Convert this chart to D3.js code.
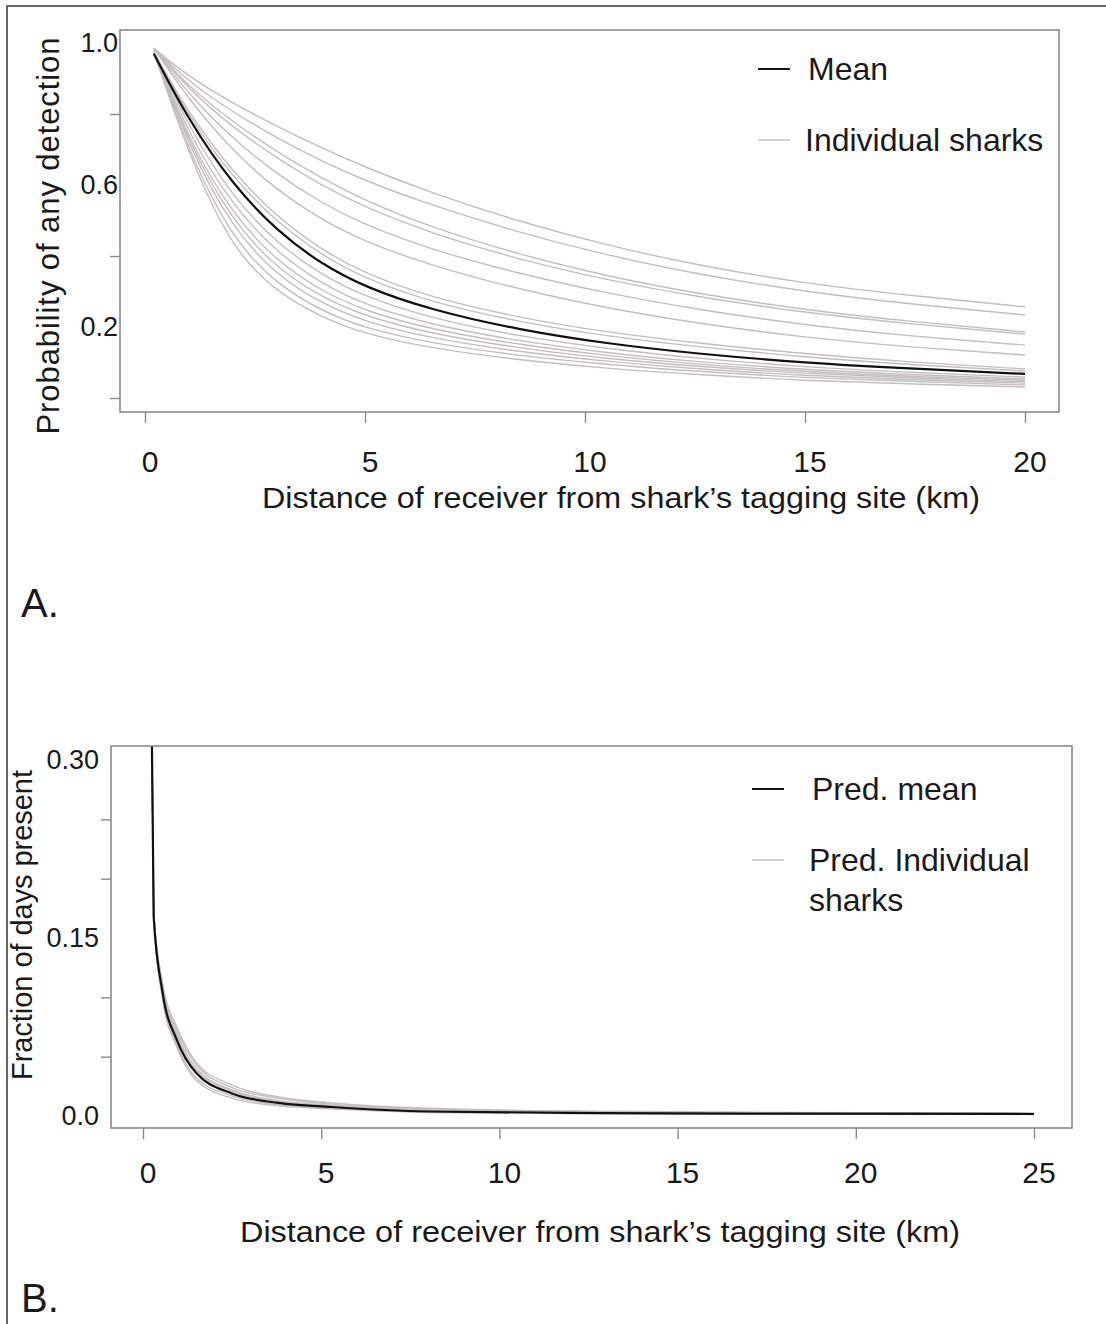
<!DOCTYPE html>
<html>
<head>
<meta charset="utf-8">
<script src="https://cdn.jsdelivr.net/npm/d3@7"></script>
<style>
  body { margin: 0; background: #fff; }
  text { font-family: "Liberation Sans", Arial, sans-serif; fill: #1a1a1a; }
</style>
</head>
<body>
<div id="chart"></div>
<script>
// panel A: probability of any detection vs distance
const topX = [0.2, 1, 2, 3, 4, 5, 6.5, 8.5, 10.5, 12.5, 15, 17.5, 20];
const topMean = [0.97, 0.78, 0.60, 0.47, 0.378, 0.312, 0.248, 0.192, 0.153, 0.125, 0.099, 0.082, 0.068];
const topSharks = [
    [0.985, 0.904, 0.830, 0.765, 0.705, 0.650, 0.578, 0.497, 0.430, 0.375, 0.322, 0.287, 0.257],
    [0.985, 0.890, 0.805, 0.732, 0.668, 0.612, 0.543, 0.466, 0.402, 0.350, 0.299, 0.263, 0.234],
    [0.985, 0.876, 0.777, 0.693, 0.620, 0.556, 0.481, 0.404, 0.343, 0.295, 0.248, 0.214, 0.186],
    [0.985, 0.868, 0.762, 0.675, 0.600, 0.537, 0.464, 0.390, 0.332, 0.286, 0.240, 0.207, 0.180],
    [0.985, 0.854, 0.730, 0.630, 0.550, 0.487, 0.418, 0.350, 0.295, 0.250, 0.205, 0.173, 0.149],
    [0.985, 0.839, 0.695, 0.585, 0.503, 0.440, 0.373, 0.306, 0.253, 0.211, 0.170, 0.142, 0.121],
    [0.975, 0.800, 0.635, 0.510, 0.418, 0.350, 0.283, 0.226, 0.185, 0.155, 0.124, 0.100, 0.082],
    [0.975, 0.790, 0.620, 0.495, 0.403, 0.336, 0.270, 0.214, 0.174, 0.145, 0.115, 0.093, 0.076],
    [0.975, 0.760, 0.565, 0.435, 0.348, 0.285, 0.224, 0.174, 0.139, 0.112, 0.087, 0.071, 0.059],
    [0.975, 0.740, 0.540, 0.410, 0.323, 0.262, 0.206, 0.160, 0.127, 0.102, 0.080, 0.065, 0.054],
    [0.975, 0.725, 0.515, 0.385, 0.302, 0.245, 0.193, 0.150, 0.119, 0.095, 0.074, 0.060, 0.050],
    [0.975, 0.715, 0.495, 0.365, 0.285, 0.230, 0.181, 0.140, 0.111, 0.089, 0.069, 0.056, 0.046],
    [0.975, 0.705, 0.475, 0.345, 0.267, 0.214, 0.168, 0.130, 0.103, 0.082, 0.063, 0.051, 0.042],
    [0.975, 0.690, 0.445, 0.320, 0.246, 0.196, 0.154, 0.119, 0.094, 0.075, 0.057, 0.046, 0.037],
    [0.975, 0.680, 0.415, 0.298, 0.228, 0.180, 0.140, 0.107, 0.083, 0.066, 0.049, 0.039, 0.031]
];
const topXTicks = [0, 5, 10, 15, 20];
const topYTicks = [0, 0.4, 0.8];
const topYLabels = ["1.0", "0.6", "0.2"];
const topYLabelVals = [1.0, 0.6, 0.2];

// panel B: fraction of days present vs distance
const botX = [0.2, 0.3, 0.55, 0.95, 1.5, 2.5, 3.8, 5.3, 8, 12.8, 18, 25];
const botMean = [0.46, 0.168, 0.104, 0.064, 0.036, 0.019, 0.011, 0.0076, 0.0038, 0.0025, 0.002, 0.0017];
const botSharks = [
    [0.46, 0.172, 0.112, 0.075, 0.045, 0.026, 0.016, 0.011, 0.0065, 0.0040, 0.0030, 0.0024],
    [0.46, 0.171, 0.110, 0.072, 0.043, 0.024, 0.015, 0.010, 0.0060, 0.0037, 0.0028, 0.0022],
    [0.46, 0.170, 0.108, 0.069, 0.040, 0.022, 0.013, 0.009, 0.0052, 0.0033, 0.0025, 0.0020],
    [0.46, 0.169, 0.106, 0.067, 0.038, 0.021, 0.012, 0.0085, 0.0048, 0.0031, 0.0023, 0.0019],
    [0.46, 0.167, 0.100, 0.060, 0.032, 0.017, 0.0095, 0.0068, 0.0034, 0.0022, 0.0018, 0.0015],
    [0.46, 0.166, 0.098, 0.058, 0.030, 0.015, 0.0085, 0.006, 0.0030, 0.0020, 0.0016, 0.0014]
];
const botXTicks = [0, 5, 10, 15, 20, 25];
const botYTicks = [0.05, 0.10, 0.20, 0.25];
const botYLabels = ["0.30", "0.15", "0.0"];
const botYLabelVals = [0.30, 0.15, 0.0];

const xTitle = "Distance of receiver from shark’s tagging site (km)";

let W = 1106, H = 1324;
let grey = "#c2bebe", axisCol = "#8a8a8a";

let svg = d3.select("#chart").append("svg")
    .attr("width", W)
    .attr("height", H);

svg.append("rect").attr("width", W).attr("height", H).attr("fill", "#fff");

// outer frame (left + top edges visible)
svg.append("path")
    .attr("d", `M7,${H} V6 H${W}`)
    .attr("fill", "none")
    .attr("stroke", "#333")
    .attr("stroke-width", 1.5);

function panel(cfg) {
    let g = svg.append("g");
    let x = d3.scaleLinear().domain(cfg.xDomain).range(cfg.xRange);
    let y = d3.scaleLinear().domain(cfg.yDomain).range(cfg.yRange);
    let b = cfg.box;

    let clipId = "clip" + cfg.id;
    g.append("clipPath").attr("id", clipId)
        .append("rect")
        .attr("x", b.x0).attr("y", b.y0)
        .attr("width", b.x1 - b.x0).attr("height", b.y1 - b.y0);

    let line = d3.line()
        .x((d, i) => x(cfg.xs[i]))
        .y(d => y(d))
        .curve(cfg.curve);

    let lines = g.append("g").attr("clip-path", `url(#${clipId})`);
    lines.selectAll(".shark")
        .data(cfg.sharks)
        .enter()
        .append("path")
        .attr("class", "shark")
        .attr("d", line)
        .attr("fill", "none")
        .attr("stroke", grey)
        .attr("stroke-width", 1.4);

    lines.append("path")
        .attr("d", line(cfg.mean))
        .attr("fill", "none")
        .attr("stroke", "#111")
        .attr("stroke-width", 2.2);

    g.append("rect")
        .attr("x", b.x0).attr("y", b.y0)
        .attr("width", b.x1 - b.x0).attr("height", b.y1 - b.y0)
        .attr("fill", "none")
        .attr("stroke", axisCol)
        .attr("stroke-width", 1.6);

    // x axis ticks below box
    g.append("g")
        .attr("transform", `translate(0,${b.y1})`)
        .call(d3.axisBottom(x).tickValues(cfg.xTicks).tickSize(11).tickFormat(""))
        .call(a => a.select(".domain").remove())
        .selectAll("line")
        .attr("stroke", axisCol)
        .attr("stroke-width", 1.4);

    g.selectAll(".xlab")
        .data(cfg.xTicks)
        .enter()
        .append("text")
        .attr("x", d => x(d) + 5)
        .attr("y", cfg.xLabY)
        .attr("text-anchor", "middle")
        .attr("dominant-baseline", "central")
        .style("font-size", "30px")
        .text(d => d);

    // y axis: unlabelled ticks + labels
    g.append("g")
        .attr("transform", `translate(${b.x0},0)`)
        .call(d3.axisLeft(y).tickValues(cfg.yTicks).tickSize(10).tickFormat(""))
        .call(a => a.select(".domain").remove())
        .selectAll("line")
        .attr("stroke", axisCol)
        .attr("stroke-width", 1.4);

    g.selectAll(".ylab")
        .data(cfg.yLabelVals)
        .enter()
        .append("text")
        .attr("x", b.x0 - cfg.yLabGap)
        .attr("y", d => y(d))
        .attr("text-anchor", "end")
        .attr("dominant-baseline", "central")
        .style("font-size", "27px")
        .text((d, i) => cfg.yLabels[i]);

    g.append("text")
        .attr("x", cfg.xTitle.cx)
        .attr("y", cfg.xTitle.cy)
        .attr("text-anchor", "middle")
        .attr("dominant-baseline", "central")
        .attr("textLength", cfg.xTitle.len)
        .attr("lengthAdjust", "spacingAndGlyphs")
        .style("font-size", "29px")
        .text(xTitle);

    g.append("text")
        .attr("transform", `translate(${cfg.yTitle.cx},${cfg.yTitle.cy}) rotate(-90)`)
        .attr("text-anchor", "middle")
        .attr("dominant-baseline", "central")
        .attr("textLength", cfg.yTitle.len)
        .attr("lengthAdjust", "spacing")
        .style("font-size", cfg.yTitle.size + "px")
        .text(cfg.yTitle.text);

    // legend
    cfg.legend.forEach(l => {
        if (l.col) {
            g.append("line")
                .attr("x1", l.lx).attr("x2", l.lx + 32)
                .attr("y1", l.y).attr("y2", l.y)
                .attr("stroke", l.col)
                .attr("stroke-width", l.col === grey ? 1.4 : 2);
        }
        g.append("text")
            .attr("x", l.tx)
            .attr("y", l.y)
            .attr("dominant-baseline", "central")
            .style("font-size", "32px")
            .text(l.text);
    });

    g.append("text")
        .attr("x", 21)
        .attr("y", cfg.tagY)
        .attr("dominant-baseline", "central")
        .style("font-size", "40px")
        .text(cfg.tag);
}

panel({
    id: "A",
    xs: topX, mean: topMean, sharks: topSharks,
    curve: d3.curveBasis,
    xDomain: [0, 20], xRange: [145, 1025],
    yDomain: [0, 1], yRange: [398, 43],
    box: { x0: 120, y0: 30, x1: 1059, y1: 412 },
    xTicks: topXTicks, xLabY: 461,
    yTicks: topYTicks, yLabels: topYLabels, yLabelVals: topYLabelVals, yLabGap: 2,
    xTitle: { cx: 621, cy: 498, len: 718 },
    yTitle: { cx: 48, cy: 236, len: 397, size: 31, text: "Probability of any detection" },
    legend: [
        { lx: 758, tx: 808, y: 69, col: "#111", text: "Mean" },
        { lx: 758, tx: 805, y: 140, col: grey, text: "Individual sharks" }
    ],
    tag: "A.", tagY: 603
});

panel({
    id: "B",
    xs: botX, mean: botMean, sharks: botSharks,
    curve: d3.curveMonotoneX,
    xDomain: [0, 25], xRange: [143, 1034],
    yDomain: [0, 0.30], yRange: [1116, 760],
    box: { x0: 111, y0: 746, x1: 1072, y1: 1128 },
    xTicks: botXTicks, xLabY: 1172,
    yTicks: botYTicks, yLabels: botYLabels, yLabelVals: botYLabelVals, yLabGap: 12,
    xTitle: { cx: 600, cy: 1232, len: 720 },
    yTitle: { cx: 22, cy: 925, len: 310, size: 29, text: "Fraction of days present" },
    legend: [
        { lx: 752, tx: 812, y: 789, col: "#111", text: "Pred. mean" },
        { lx: 752, tx: 809, y: 860, col: grey, text: "Pred. Individual" },
        { tx: 809, y: 900, text: "sharks" }
    ],
    tag: "B.", tagY: 1298
});
</script>
</body>
</html>
